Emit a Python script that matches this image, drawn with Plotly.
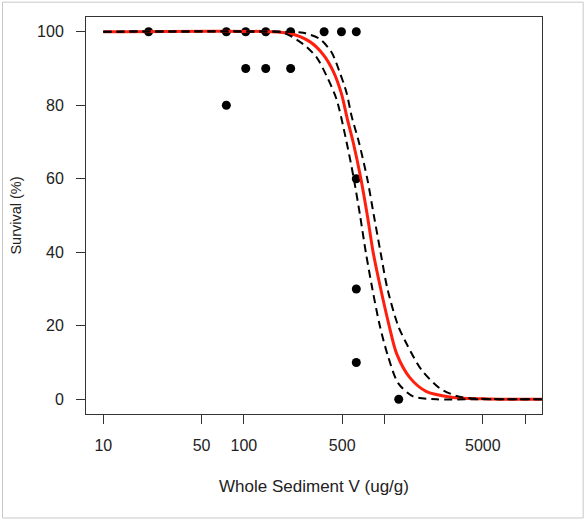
import plotly.graph_objects as go

# Observed survival data
obs_conc = [21, 75, 75, 103, 103, 143, 143, 215, 215, 372, 494, 630, 630, 630, 630, 1262]
obs_surv = [100, 100, 80, 100, 90, 100, 90, 100, 90, 100, 100, 100, 60, 30, 10, 0]

# Fitted curve
fit_conc = [10, 150, 212, 294, 366, 432, 495, 542, 598, 679, 755, 830, 940, 1079, 1217, 1513, 1990, 3076, 4036, 5500, 8000, 14000]
fit_surv = [100, 100, 99.5, 97.3, 93.8, 89.2, 83.0, 76.5, 70.0, 60.0, 50.0, 40.0, 30.0, 20.0, 12.5, 5.9, 2.1, 0.5, 0.2, 0.1, 0, 0]

# Lower confidence band
lo_conc = [10, 100, 190, 264, 329, 387, 456, 537, 605, 670, 736, 820, 926, 1061, 1250, 1596, 2342, 4000, 8000, 14000]
lo_surv = [100, 100, 99.7, 96.6, 93.0, 88.0, 81.6, 70.0, 60.0, 50.0, 40.0, 30.0, 20.0, 11.6, 4.4, 0.8, 0, 0, 0, 0]

# Upper confidence band
hi_conc = [10, 200, 264, 347, 420, 481, 537, 583, 659, 754, 840, 937, 1050, 1250, 1472, 1833, 2472, 3250, 4036, 5500, 8000, 14000]
hi_surv = [100, 100, 99.7, 98.0, 94.4, 88.9, 83.4, 77.1, 69.8, 60.0, 50.0, 40.0, 30.0, 20.0, 14.3, 8.0, 3.0, 0.9, 0.3, 0.1, 0, 0]

x_tickvals = [10, 50, 100, 500, 1000, 5000, 10000]
x_ticktext = ["10", "50", "100", "500", "", "5000", ""]
y_tickvals = [0, 20, 40, 60, 80, 100]

FONT = "Liberation Sans, Arial, sans-serif"
AXC = "#333333"
TXT = "#222222"

fig = go.Figure()
fig.add_trace(go.Scatter(x=obs_conc, y=obs_surv, mode="markers",
                         marker=dict(color="black", size=9), showlegend=False))
fig.add_trace(go.Scatter(x=fit_conc, y=fit_surv, mode="lines",
                         line=dict(color="#ff1f0f", width=3, shape="spline", smoothing=0.8),
                         showlegend=False))
for xs, ys in [(lo_conc, lo_surv), (hi_conc, hi_surv)]:
    fig.add_trace(go.Scatter(x=xs, y=ys, mode="lines",
                             line=dict(color="black", width=2, dash="8px,5px",
                                       shape="spline", smoothing=0.8),
                             showlegend=False))

fig.update_layout(
    width=586, height=520,
    margin=dict(l=86, r=44, t=17, b=106),
    paper_bgcolor="white", plot_bgcolor="white",
    font=dict(family=FONT, size=16, color=TXT),
    xaxis=dict(type="log", range=[0.877, 4.12], tickvals=x_tickvals, ticktext=x_ticktext,
               ticks="outside", ticklen=9, tickcolor=AXC, tickwidth=1,
               showline=True, linecolor=AXC, linewidth=1, mirror=True,
               showgrid=False, zeroline=False, ticklabelstandoff=8,
               title=dict(text="Whole Sediment V (ug/g)", standoff=26,
                          font=dict(size=17, color=TXT))),
    yaxis=dict(range=[-4, 104], tickvals=y_tickvals,
               ticks="outside", ticklen=9, tickcolor=AXC, tickwidth=1,
               showline=True, linecolor=AXC, linewidth=1, mirror=True,
               showgrid=False, zeroline=False, ticklabelstandoff=9,
               title=dict(text="Survival (%)", standoff=12,
                          font=dict(size=14.5, color=TXT))),
    shapes=[dict(type="rect", xref="paper", yref="paper",
                 x0=-0.183, x1=1.0903, y0=-0.2619, y1=1.0373,
                 line=dict(color="#c8c8c8", width=1), fillcolor="rgba(0,0,0,0)", layer="below")],
)

fig.write_html("out.html", config={"displayModeBar": False},
               post_script="document.body.style.margin='0px';document.body.style.overflow='hidden';")
